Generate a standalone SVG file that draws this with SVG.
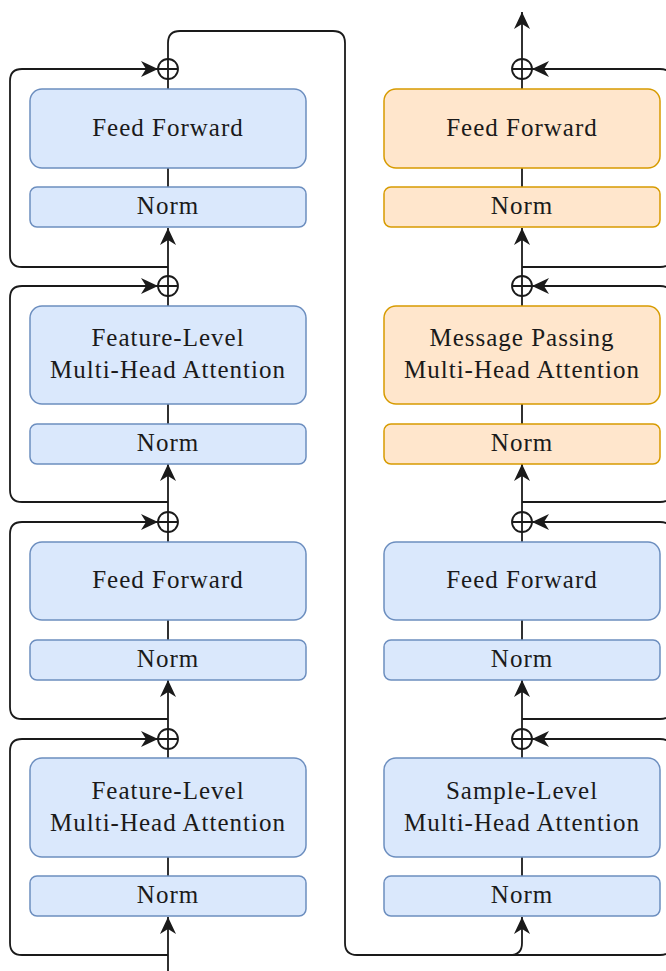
<svg xmlns="http://www.w3.org/2000/svg" width="666" height="971" viewBox="0 0 666 971">
<style>
.b{fill:#dae8fc;stroke:#6c8ebf;stroke-width:1.5}
.o{fill:#ffe6cc;stroke:#d79b00;stroke-width:1.5}
.t{font-family:"Liberation Serif","Times New Roman",serif;font-size:25px;letter-spacing:1px;fill:#1a1a1a;text-anchor:middle}
.c{fill:none;stroke:#1a1a1a;stroke-width:1.8}
.a{fill:none;stroke:#1a1a1a;stroke-width:1.8;marker-end:url(#ar)}
.p{fill:#fff;stroke:#1a1a1a;stroke-width:1.8}
</style>
<defs>
<marker id="ar" viewBox="-18 -9 19 18" refX="0" refY="0" markerWidth="19" markerHeight="18" markerUnits="userSpaceOnUse" orient="auto">
<path d="M0,0 L-17,-8 L-12,0 L-17,8 Z" fill="#1a1a1a"/>
</marker>
<g id="plus"><circle r="10" class="p"/><path d="M-10,0H10M0,-10V10" class="c"/></g>
</defs>
<g id="connectors">
<path class="a" d="M168,971V917"/>
<path class="c" d="M168,876V857"/>
<path class="c" d="M168,758V749"/>
<path class="a" d="M168,729V680"/>
<path class="c" d="M168,640V620"/>
<path class="c" d="M168,542V532"/>
<path class="a" d="M168,512V464"/>
<path class="c" d="M168,424V404"/>
<path class="c" d="M168,306V296"/>
<path class="a" d="M168,276V228"/>
<path class="c" d="M168,187V168"/>
<path class="c" d="M168,89V79"/>
<path class="a" d="M168,955H22Q10,955 10,943V751Q10,739 22,739H158"/>
<path class="a" d="M168,719H22Q10,719 10,707V534Q10,522 22,522H158"/>
<path class="a" d="M168,502H22Q10,502 10,490V298Q10,286 22,286H158"/>
<path class="a" d="M168,267H22Q10,267 10,255V81Q10,69 22,69H158"/>
<path class="a" d="M168,59V43Q168,31 180,31H333Q345,31 345,43V943Q345,955 357,955H660Q672,955 672,943V751Q672,739 660,739H532"/>
<path class="a" d="M510,955Q522,955 522,943V917"/>
<path class="c" d="M522,876V857"/>
<path class="c" d="M522,758V749"/>
<path class="a" d="M522,729V680"/>
<path class="c" d="M522,640V620"/>
<path class="c" d="M522,542V532"/>
<path class="a" d="M522,512V464"/>
<path class="c" d="M522,424V404"/>
<path class="c" d="M522,306V296"/>
<path class="a" d="M522,276V228"/>
<path class="c" d="M522,187V168"/>
<path class="c" d="M522,89V79"/>
<path class="a" d="M522,59V12"/>
<path class="a" d="M522,719H660Q672,719 672,707V534Q672,522 660,522H532"/>
<path class="a" d="M522,502H660Q672,502 672,490V298Q672,286 660,286H532"/>
<path class="a" d="M522,267H660Q672,267 672,255V81Q672,69 660,69H532"/>
</g>
<g id="adds">
<use href="#plus" x="168" y="69"/>
<use href="#plus" x="168" y="286"/>
<use href="#plus" x="168" y="522"/>
<use href="#plus" x="168" y="739"/>
<use href="#plus" x="522" y="69"/>
<use href="#plus" x="522" y="286"/>
<use href="#plus" x="522" y="522"/>
<use href="#plus" x="522" y="739"/>
</g>
<g id="l-ff2"><rect class="b" x="30" y="89" width="276" height="79" rx="12"/><text class="t" x="168" y="135.5">Feed Forward</text></g>
<g id="l-norm4"><rect class="b" x="30" y="187" width="276" height="40" rx="7"/><text class="t" x="168" y="213.5">Norm</text></g>
<g id="l-att2"><rect class="b" x="30" y="306" width="276" height="98" rx="12"/><text class="t" x="168" y="346">Feature-Level</text><text class="t" x="168" y="378">Multi-Head Attention</text></g>
<g id="l-norm3"><rect class="b" x="30" y="424" width="276" height="40" rx="7"/><text class="t" x="168" y="450.5">Norm</text></g>
<g id="l-ff1"><rect class="b" x="30" y="542" width="276" height="78" rx="12"/><text class="t" x="168" y="588">Feed Forward</text></g>
<g id="l-norm2"><rect class="b" x="30" y="640" width="276" height="40" rx="7"/><text class="t" x="168" y="666.5">Norm</text></g>
<g id="l-att1"><rect class="b" x="30" y="758" width="276" height="99" rx="12"/><text class="t" x="168" y="798.5">Feature-Level</text><text class="t" x="168" y="830.5">Multi-Head Attention</text></g>
<g id="l-norm1"><rect class="b" x="30" y="876" width="276" height="40" rx="7"/><text class="t" x="168" y="902.5">Norm</text></g>
<g id="r-ff2"><rect class="o" x="384" y="89" width="276" height="79" rx="12"/><text class="t" x="522" y="135.5">Feed Forward</text></g>
<g id="r-norm4"><rect class="o" x="384" y="187" width="276" height="40" rx="7"/><text class="t" x="522" y="213.5">Norm</text></g>
<g id="r-att2"><rect class="o" x="384" y="306" width="276" height="98" rx="12"/><text class="t" x="522" y="346">Message Passing</text><text class="t" x="522" y="378">Multi-Head Attention</text></g>
<g id="r-norm3"><rect class="o" x="384" y="424" width="276" height="40" rx="7"/><text class="t" x="522" y="450.5">Norm</text></g>
<g id="r-ff1"><rect class="b" x="384" y="542" width="276" height="78" rx="12"/><text class="t" x="522" y="588">Feed Forward</text></g>
<g id="r-norm2"><rect class="b" x="384" y="640" width="276" height="40" rx="7"/><text class="t" x="522" y="666.5">Norm</text></g>
<g id="r-att1"><rect class="b" x="384" y="758" width="276" height="99" rx="12"/><text class="t" x="522" y="798.5">Sample-Level</text><text class="t" x="522" y="830.5">Multi-Head Attention</text></g>
<g id="r-norm1"><rect class="b" x="384" y="876" width="276" height="40" rx="7"/><text class="t" x="522" y="902.5">Norm</text></g>
</svg>
